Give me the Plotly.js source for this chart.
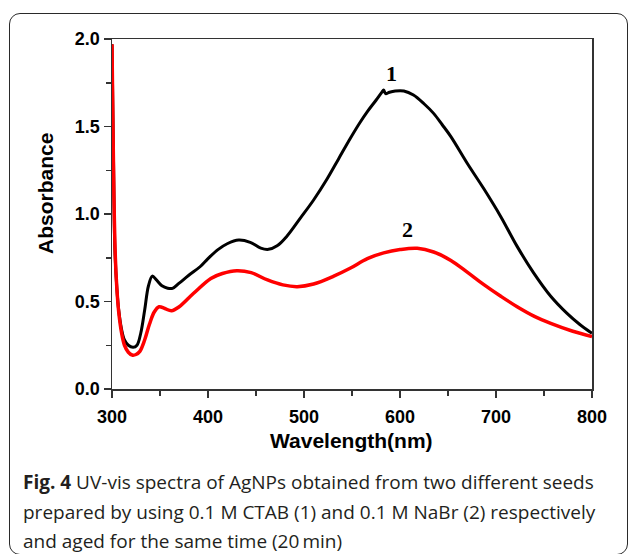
<!DOCTYPE html>
<html>
<head>
<meta charset="utf-8">
<script src="https://cdn.plot.ly/plotly-3.0.1.min.js"></script>
<style>
  html, body { margin: 0; padding: 0; background: #fff; }
  #wrap { position: relative; width: 629px; height: 554px; overflow: hidden; }
  #chart { position: absolute; left: 0; top: 0; width: 629px; height: 554px; }
  #frame { position: absolute; left: 9px; top: 13px; width: 617px; height: 540px;
           border: 1.5px solid #2a2a2a; border-radius: 11px; pointer-events: none; }
</style>
</head>
<body>
<div id="wrap">
  <div id="chart"></div>
  <div id="frame"></div>
</div>
<script>
// Curve 1 (0.1 M CTAB seed) - black
const wl1 = [300, 301, 302, 303, 305, 307, 310, 313, 317, 322, 326, 330, 334, 338, 342, 346, 352, 358, 363, 370, 380, 392, 400, 410, 420, 432, 444, 455, 463, 472, 482, 496, 510, 524, 536, 548, 558, 566, 575, 581, 583, 585, 589, 595, 604, 614, 625, 635, 644, 653, 670, 687, 705, 722, 739, 757, 774, 787, 800];
const abs1 = [1.97, 1.55, 1.12, 0.80, 0.58, 0.45, 0.34, 0.28, 0.25, 0.238, 0.25, 0.32, 0.45, 0.59, 0.645, 0.625, 0.59, 0.576, 0.575, 0.605, 0.65, 0.70, 0.745, 0.795, 0.83, 0.851, 0.838, 0.805, 0.798, 0.818, 0.872, 0.975, 1.08, 1.20, 1.315, 1.43, 1.52, 1.585, 1.65, 1.695, 1.708, 1.688, 1.696, 1.703, 1.703, 1.68, 1.63, 1.575, 1.51, 1.442, 1.29, 1.147, 0.985, 0.815, 0.665, 0.53, 0.432, 0.37, 0.318];

// Curve 2 (0.1 M NaBr seed) - red
const wl2 = [300, 301, 302, 303.5, 305, 307, 310, 313, 317, 321, 325, 329, 334, 339, 344, 349, 355, 362, 370, 385, 403, 415, 430, 445, 462, 478, 493, 510, 531, 548, 566, 583, 600, 618, 635, 653, 670, 687, 705, 722, 740, 757, 780, 800];
const abs2 = [1.97, 1.5, 1.1, 0.75, 0.58, 0.44, 0.32, 0.25, 0.21, 0.194, 0.197, 0.215, 0.28, 0.37, 0.44, 0.47, 0.46, 0.447, 0.47, 0.547, 0.632, 0.66, 0.676, 0.665, 0.623, 0.595, 0.585, 0.6, 0.645, 0.69, 0.745, 0.778, 0.797, 0.804, 0.783, 0.735, 0.668, 0.598, 0.53, 0.47, 0.415, 0.375, 0.33, 0.30];

// Curve labels
const labelText = ["1", "2"];
const labelX = [591, 607.5];
const labelY = [1.805, 0.909];

const xTitle = "Wavelength(nm)";
const yTitle = "Absorbance";
const captionLines = [
  "<b>Fig. 4</b> UV-vis spectra of AgNPs obtained from two different seeds",
  "prepared by using 0.1 M CTAB (1) and 0.1 M NaBr (2) respectively",
  "and aged for the same time (20\u2009min)"
];

// pixel helpers for annotations outside plot area
const W = 629, H = 554;
const L = 112, R = 37, T = 39, B = 165;
const pw = W - L - R, ph = H - T - B;
const px = x => (x - L) / pw;
const py = y => (H - B - y) / ph;

const traces = [
  { x: wl1, y: abs1, mode: 'lines', line: { color: '#000000', width: 3, shape: 'spline', smoothing: 1.0 }, hoverinfo: 'skip' },
  { x: wl2, y: abs2, mode: 'lines', line: { color: '#ff0000', width: 3.5, shape: 'spline', smoothing: 1.0 }, hoverinfo: 'skip' }
];

const annotations = [];
for (let i = 0; i < labelText.length; i++) {
  annotations.push({ x: labelX[i], y: labelY[i], xref: 'x', yref: 'y', text: labelText[i], showarrow: false,
    font: { family: 'Liberation Serif', size: 22, color: '#000', weight: 'bold' } });
}
annotations.push({ x: px(45), y: py(194), xref: 'paper', yref: 'paper', text: yTitle, textangle: -90, showarrow: false,
  xanchor: 'center', yanchor: 'middle', font: { family: 'Liberation Sans', size: 21, color: '#000', weight: 'bold' } });
annotations.push({ x: px(351), y: py(440), xref: 'paper', yref: 'paper', text: xTitle, showarrow: false,
  xanchor: 'center', yanchor: 'middle', font: { family: 'Liberation Sans', size: 21, color: '#000', weight: 'bold' } });
const capY = [482, 512, 541];
for (let i = 0; i < captionLines.length; i++) {
  annotations.push({ x: px(21), y: py(capY[i]), xref: 'paper', yref: 'paper', text: captionLines[i], showarrow: false,
    xanchor: 'left', yanchor: 'middle', align: 'left', font: { family: 'Open Sans', size: 19, color: '#231f20' } });
}

const axisCommon = {
  showline: true, linecolor: '#333', linewidth: 1.5, mirror: true,
  ticks: 'outside', ticklen: 7, tickwidth: 1.5, tickcolor: '#333',
  showgrid: false, zeroline: false,
  tickfont: { family: 'Liberation Sans', size: 18, color: '#000', weight: 'bold' }
};

const layout = {
  width: W, height: H,
  margin: { l: L, r: R, t: T, b: B },
  paper_bgcolor: 'rgba(0,0,0,0)', plot_bgcolor: '#fff',
  showlegend: false,
  xaxis: Object.assign({}, axisCommon, {
    range: [300, 800], tickvals: [300, 400, 500, 600, 700, 800], ticktext: ['300', '400', '500', '600', '700', '800'],
    minor: { ticks: 'outside', tickvals: [350, 450, 550, 650, 750], ticklen: 5, tickwidth: 1.5, tickcolor: '#333', showgrid: false },
    ticklabelstandoff: 4
  }),
  yaxis: Object.assign({}, axisCommon, {
    range: [0, 2.0], tickvals: [0, 0.5, 1.0, 1.5, 2.0], ticktext: ['0.0', '0.5', '1.0', '1.5', '2.0'],
    minor: { ticks: 'outside', tickvals: [0.25, 0.75, 1.25, 1.75], ticklen: 5, tickwidth: 1.5, tickcolor: '#333', showgrid: false }
  }),
  annotations: annotations
};

Plotly.newPlot('chart', traces, layout, { staticPlot: true, displayModeBar: false });
</script>
</body>
</html>
